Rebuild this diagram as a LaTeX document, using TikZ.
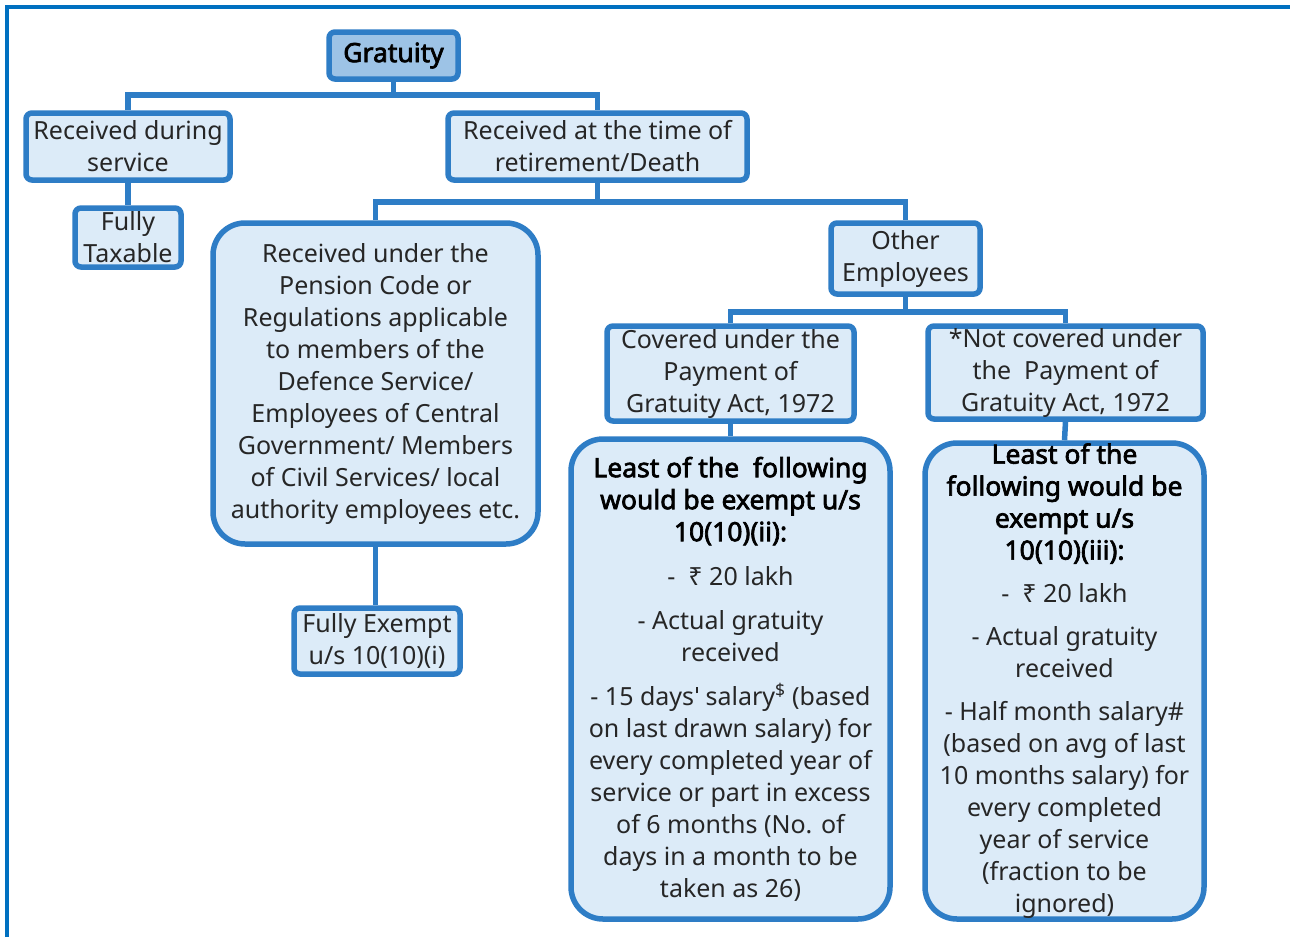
\documentclass[tikz,border=0pt]{standalone}
\usepackage{fontspec}
\setmainfont{Noto Sans}
% emboldened variant of the regular face for the headings
\newfontfamily\headfont{Noto Sans}[FakeBold=2.6]
\definecolor{framec}{HTML}{0070C0}
\definecolor{bordc}{HTML}{2E7DC6}
\definecolor{fillc}{HTML}{DCEBF8}
\definecolor{headc}{HTML}{9DC3E6}
\definecolor{txtc}{HTML}{262626}
\newcommand\boxfont{\fontsize{25}{32}\selectfont}
\newcommand\hd[1]{{\headfont\fontsize{26.5}{32}\selectfont\color{black}#1}}
% straight (typewriter) apostrophe
\newcommand\apos{\hspace{1.6pt}\rule[11.8pt]{2.1pt}{6.2pt}\hspace{1.2pt}}
\tikzset{
  box/.style={draw=bordc, fill=fillc, line width=5.5pt, rounded corners=6pt,
    inner sep=0pt, align=center, text=txtc, font=\boxfont},
  bigbox/.style={box, rounded corners=32pt},
  conn/.style={draw=bordc, line width=5.5pt},
}
\begin{document}
\begin{tikzpicture}[x=1pt,y=-1pt]
\useasboundingbox (0,0) rectangle (1290,937);
% page frame (top and left rules)
\draw[framec, line width=4pt] (7,937) -- (7,7) -- (1290,7);

% level 0
\node[box, fill=headc, minimum width=129pt, minimum height=47pt]
  (grat) at (393.5,55.5) {\hd{Gratuity}};

% level 1
\node[box, minimum width=204pt, minimum height=67pt] (recd) at (128,146.5)
  {Received during\\service};
\node[box, minimum width=299pt, minimum height=67pt] (ret) at (597.5,146.5)
  {Received at the time of\\retirement/Death};

% level 2
\node[box, minimum width=106pt, minimum height=59pt] (tax) at (128,237.5)
  {Fully\\Taxable};
\node[bigbox, minimum width=325pt, minimum height=321pt] (pens) at (375.5,383.5)
  {Received under the\\Pension Code or\\Regulations applicable\\to members of the\\Defence Service/\\Employees of Central\\Government/ Members\\of Civil Services/ local\\authority employees etc.};
\node[box, minimum width=149pt, minimum height=71pt] (oth) at (905.5,258.5)
  {Other\\Employees};

% level 3
\node[box, minimum width=166pt, minimum height=66pt] (exm) at (377,641)
  {Fully Exempt\\u/s 10(10)(i)};
\node[box, minimum width=247pt, minimum height=95pt] (cov) at (730.5,373.5)
  {Covered under the\\Payment of\\Gratuity Act, 1972};
\node[box, minimum width=275pt, minimum height=93pt] (ncov) at (1065.5,372.5)
  {*Not covered under\\the\ \ Payment of\\Gratuity Act, 1972};

% level 4
\node[bigbox, minimum width=319pt, minimum height=480pt] (lst1) at (730.5,679)
  {\hd{Least of the\ \ following}\\
   \hd{would be exempt u/s}\\
   \hd{10(10)(ii):}\\[12pt]
   -\ \ ₹ 20 lakh\\[12pt]
   - Actual gratuity\\received\\[12pt]
   - 15 days\apos{} salary\textsuperscript{\$} (based\\
   on last drawn salary) for\\
   every completed year of\\
   service or part in excess\\
   of 6 months (No. of\\
   days in a month to be\\
   taken as 26)};
\node[bigbox, minimum width=279pt, minimum height=476pt] (lst2) at (1064.5,681)
  {\hd{Least of the}\\
   \hd{following would be}\\
   \hd{exempt u/s}\\
   \hd{10(10)(iii):}\\[11pt]
   -\ \ ₹ 20 lakh\\[11pt]
   - Actual gratuity\\received\\[11pt]
   - Half month salary\#\\
   (based on avg of last\\
   10 months salary) for\\
   every completed\\
   year of service\\
   (fraction to be\\
   ignored)};

% connectors
\coordinate (b1) at (393.5,95);
\coordinate (b2) at (597.5,202);
\coordinate (b3) at (905.5,312);
\draw[conn] (grat.south) -- (b1);
\draw[conn] (recd.north) |- (b1) -| (ret.north);
\draw[conn] (recd.south) -- (tax.north);
\draw[conn] (ret.south) -- (b2);
\draw[conn] (pens.north) |- (b2) -| (oth.north);
\draw[conn] (oth.south) -- (b3);
\draw[conn] (cov.north) |- (b3) -| (ncov.north);
\draw[conn] (pens.south) -- (pens.south |- exm.north);
\draw[conn] (cov.south) -- (lst1.north);
\draw[conn] (ncov.south) -- (lst2.north);
\end{tikzpicture}
\end{document}
